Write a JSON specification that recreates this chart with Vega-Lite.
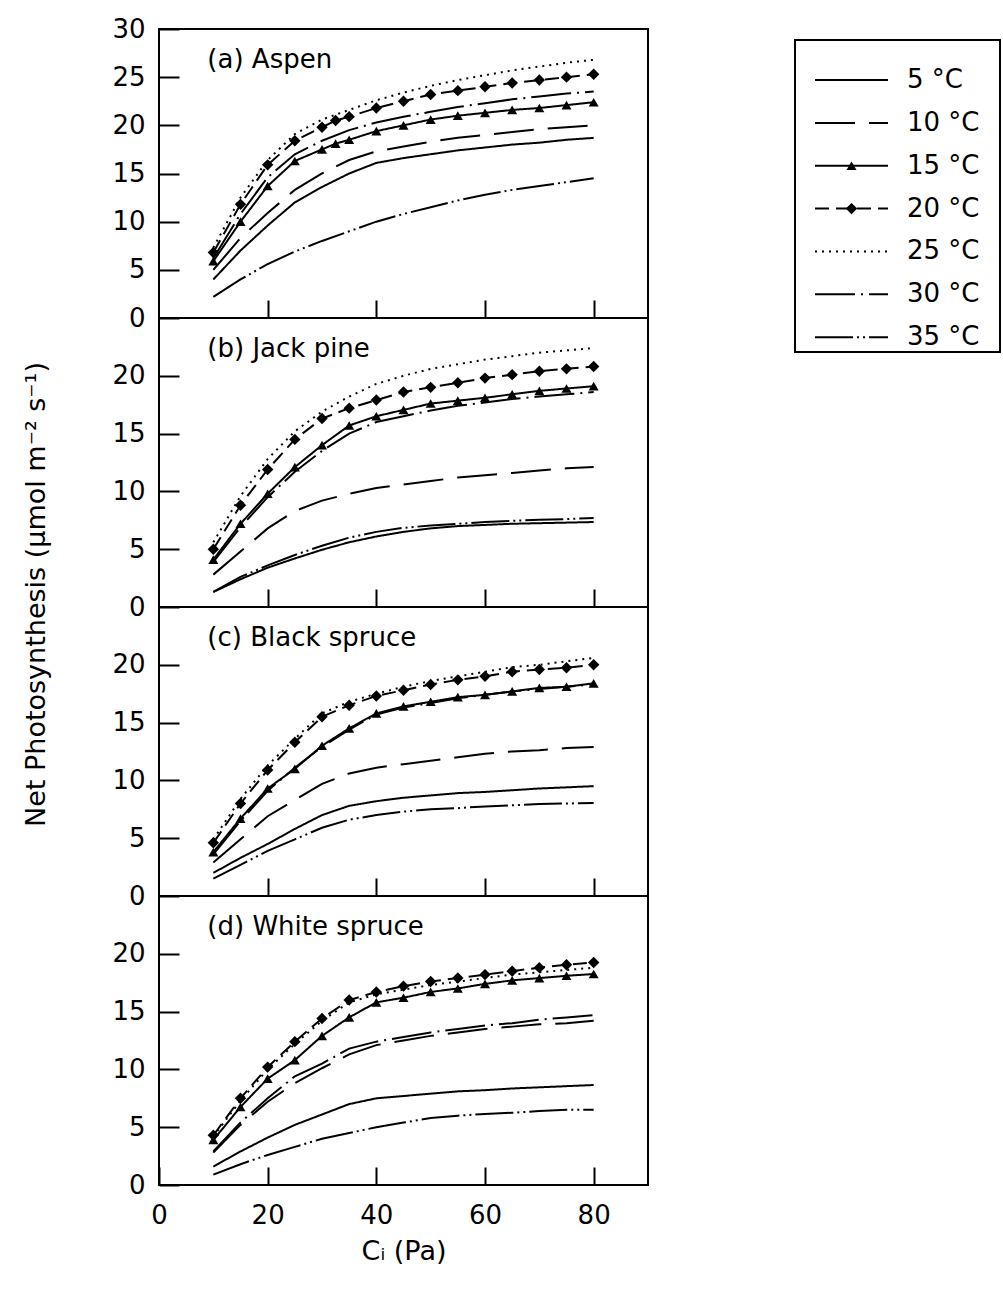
{
"$schema": "https://vega.github.io/schema/vega-lite/v6.json",
"background": "white",
"padding": {"left": 20, "top": 15, "right": 0, "bottom": 5},
"datasets": {
"ps": [
{"sp":"a","t":5,"ci":10,"pn":4.0},{"sp":"a","t":5,"ci":15,"pn":7.0},{"sp":"a","t":5,"ci":20,"pn":9.6},{"sp":"a","t":5,"ci":25,"pn":12.0},{"sp":"a","t":5,"ci":30,"pn":13.6},{"sp":"a","t":5,"ci":35,"pn":15.0},{"sp":"a","t":5,"ci":40,"pn":16.1},{"sp":"a","t":5,"ci":45,"pn":16.6},{"sp":"a","t":5,"ci":50,"pn":17.0},{"sp":"a","t":5,"ci":55,"pn":17.4},{"sp":"a","t":5,"ci":60,"pn":17.7},{"sp":"a","t":5,"ci":65,"pn":18.0},{"sp":"a","t":5,"ci":70,"pn":18.2},{"sp":"a","t":5,"ci":75,"pn":18.5},{"sp":"a","t":5,"ci":80,"pn":18.7},
{"sp":"a","t":10,"ci":10,"pn":5.0},{"sp":"a","t":10,"ci":15,"pn":8.3},{"sp":"a","t":10,"ci":20,"pn":10.9},{"sp":"a","t":10,"ci":25,"pn":13.3},{"sp":"a","t":10,"ci":30,"pn":15.0},{"sp":"a","t":10,"ci":35,"pn":16.4},{"sp":"a","t":10,"ci":40,"pn":17.3},{"sp":"a","t":10,"ci":45,"pn":17.8},{"sp":"a","t":10,"ci":50,"pn":18.3},{"sp":"a","t":10,"ci":55,"pn":18.7},{"sp":"a","t":10,"ci":60,"pn":19.0},{"sp":"a","t":10,"ci":65,"pn":19.3},{"sp":"a","t":10,"ci":70,"pn":19.6},{"sp":"a","t":10,"ci":75,"pn":19.8},{"sp":"a","t":10,"ci":80,"pn":20.0},
{"sp":"a","t":15,"ci":10,"pn":5.9},{"sp":"a","t":15,"ci":15,"pn":10.0},{"sp":"a","t":15,"ci":20,"pn":13.7},{"sp":"a","t":15,"ci":25,"pn":16.3},{"sp":"a","t":15,"ci":30,"pn":17.5},{"sp":"a","t":15,"ci":32.5,"pn":18.1},{"sp":"a","t":15,"ci":35,"pn":18.5},{"sp":"a","t":15,"ci":40,"pn":19.4},{"sp":"a","t":15,"ci":45,"pn":20.0},{"sp":"a","t":15,"ci":50,"pn":20.6},{"sp":"a","t":15,"ci":55,"pn":21.0},{"sp":"a","t":15,"ci":60,"pn":21.3},{"sp":"a","t":15,"ci":65,"pn":21.6},{"sp":"a","t":15,"ci":70,"pn":21.8},{"sp":"a","t":15,"ci":75,"pn":22.1},{"sp":"a","t":15,"ci":80,"pn":22.4},
{"sp":"a","t":20,"ci":10,"pn":6.8},{"sp":"a","t":20,"ci":15,"pn":11.8},{"sp":"a","t":20,"ci":20,"pn":15.9},{"sp":"a","t":20,"ci":25,"pn":18.4},{"sp":"a","t":20,"ci":30,"pn":19.8},{"sp":"a","t":20,"ci":32.5,"pn":20.5},{"sp":"a","t":20,"ci":35,"pn":20.9},{"sp":"a","t":20,"ci":40,"pn":21.8},{"sp":"a","t":20,"ci":45,"pn":22.5},{"sp":"a","t":20,"ci":50,"pn":23.2},{"sp":"a","t":20,"ci":55,"pn":23.6},{"sp":"a","t":20,"ci":60,"pn":24.0},{"sp":"a","t":20,"ci":65,"pn":24.4},{"sp":"a","t":20,"ci":70,"pn":24.7},{"sp":"a","t":20,"ci":75,"pn":25.0},{"sp":"a","t":20,"ci":80,"pn":25.3},
{"sp":"a","t":25,"ci":10,"pn":7.3},{"sp":"a","t":25,"ci":15,"pn":12.5},{"sp":"a","t":25,"ci":20,"pn":16.4},{"sp":"a","t":25,"ci":25,"pn":19.1},{"sp":"a","t":25,"ci":30,"pn":20.6},{"sp":"a","t":25,"ci":35,"pn":21.6},{"sp":"a","t":25,"ci":40,"pn":22.6},{"sp":"a","t":25,"ci":45,"pn":23.4},{"sp":"a","t":25,"ci":50,"pn":24.1},{"sp":"a","t":25,"ci":55,"pn":24.7},{"sp":"a","t":25,"ci":60,"pn":25.2},{"sp":"a","t":25,"ci":65,"pn":25.7},{"sp":"a","t":25,"ci":70,"pn":26.1},{"sp":"a","t":25,"ci":75,"pn":26.5},{"sp":"a","t":25,"ci":80,"pn":26.8},
{"sp":"a","t":30,"ci":10,"pn":6.2},{"sp":"a","t":30,"ci":15,"pn":10.8},{"sp":"a","t":30,"ci":20,"pn":14.6},{"sp":"a","t":30,"ci":25,"pn":17.0},{"sp":"a","t":30,"ci":30,"pn":18.4},{"sp":"a","t":30,"ci":35,"pn":19.5},{"sp":"a","t":30,"ci":40,"pn":20.3},{"sp":"a","t":30,"ci":45,"pn":20.9},{"sp":"a","t":30,"ci":50,"pn":21.4},{"sp":"a","t":30,"ci":55,"pn":21.9},{"sp":"a","t":30,"ci":60,"pn":22.3},{"sp":"a","t":30,"ci":65,"pn":22.7},{"sp":"a","t":30,"ci":70,"pn":23.0},{"sp":"a","t":30,"ci":75,"pn":23.3},{"sp":"a","t":30,"ci":80,"pn":23.5},
{"sp":"a","t":35,"ci":10,"pn":2.2},{"sp":"a","t":35,"ci":15,"pn":4.0},{"sp":"a","t":35,"ci":20,"pn":5.6},{"sp":"a","t":35,"ci":25,"pn":6.9},{"sp":"a","t":35,"ci":30,"pn":8.0},{"sp":"a","t":35,"ci":35,"pn":9.0},{"sp":"a","t":35,"ci":40,"pn":10.0},{"sp":"a","t":35,"ci":45,"pn":10.8},{"sp":"a","t":35,"ci":50,"pn":11.5},{"sp":"a","t":35,"ci":55,"pn":12.2},{"sp":"a","t":35,"ci":60,"pn":12.8},{"sp":"a","t":35,"ci":65,"pn":13.3},{"sp":"a","t":35,"ci":70,"pn":13.7},{"sp":"a","t":35,"ci":75,"pn":14.1},{"sp":"a","t":35,"ci":80,"pn":14.5},
{"sp":"b","t":5,"ci":10,"pn":1.3},{"sp":"b","t":5,"ci":15,"pn":2.4},{"sp":"b","t":5,"ci":20,"pn":3.4},{"sp":"b","t":5,"ci":25,"pn":4.2},{"sp":"b","t":5,"ci":30,"pn":4.95},{"sp":"b","t":5,"ci":35,"pn":5.6},{"sp":"b","t":5,"ci":40,"pn":6.1},{"sp":"b","t":5,"ci":45,"pn":6.5},{"sp":"b","t":5,"ci":50,"pn":6.8},{"sp":"b","t":5,"ci":55,"pn":7.0},{"sp":"b","t":5,"ci":60,"pn":7.1},{"sp":"b","t":5,"ci":65,"pn":7.2},{"sp":"b","t":5,"ci":70,"pn":7.25},{"sp":"b","t":5,"ci":75,"pn":7.3},{"sp":"b","t":5,"ci":80,"pn":7.35},
{"sp":"b","t":10,"ci":10,"pn":2.8},{"sp":"b","t":10,"ci":15,"pn":4.8},{"sp":"b","t":10,"ci":20,"pn":6.8},{"sp":"b","t":10,"ci":25,"pn":8.3},{"sp":"b","t":10,"ci":30,"pn":9.2},{"sp":"b","t":10,"ci":35,"pn":9.8},{"sp":"b","t":10,"ci":40,"pn":10.3},{"sp":"b","t":10,"ci":45,"pn":10.6},{"sp":"b","t":10,"ci":50,"pn":10.9},{"sp":"b","t":10,"ci":55,"pn":11.2},{"sp":"b","t":10,"ci":60,"pn":11.4},{"sp":"b","t":10,"ci":65,"pn":11.6},{"sp":"b","t":10,"ci":70,"pn":11.8},{"sp":"b","t":10,"ci":75,"pn":12.0},{"sp":"b","t":10,"ci":80,"pn":12.1},
{"sp":"b","t":15,"ci":10,"pn":4.1},{"sp":"b","t":15,"ci":15,"pn":7.2},{"sp":"b","t":15,"ci":20,"pn":9.8},{"sp":"b","t":15,"ci":25,"pn":12.1},{"sp":"b","t":15,"ci":30,"pn":14.0},{"sp":"b","t":15,"ci":35,"pn":15.7},{"sp":"b","t":15,"ci":40,"pn":16.5},{"sp":"b","t":15,"ci":45,"pn":17.05},{"sp":"b","t":15,"ci":50,"pn":17.6},{"sp":"b","t":15,"ci":55,"pn":17.85},{"sp":"b","t":15,"ci":60,"pn":18.1},{"sp":"b","t":15,"ci":65,"pn":18.4},{"sp":"b","t":15,"ci":70,"pn":18.7},{"sp":"b","t":15,"ci":75,"pn":18.9},{"sp":"b","t":15,"ci":80,"pn":19.1},
{"sp":"b","t":20,"ci":10,"pn":5.0},{"sp":"b","t":20,"ci":15,"pn":8.8},{"sp":"b","t":20,"ci":20,"pn":11.9},{"sp":"b","t":20,"ci":25,"pn":14.5},{"sp":"b","t":20,"ci":30,"pn":16.3},{"sp":"b","t":20,"ci":35,"pn":17.2},{"sp":"b","t":20,"ci":40,"pn":17.9},{"sp":"b","t":20,"ci":45,"pn":18.6},{"sp":"b","t":20,"ci":50,"pn":19.0},{"sp":"b","t":20,"ci":55,"pn":19.4},{"sp":"b","t":20,"ci":60,"pn":19.8},{"sp":"b","t":20,"ci":65,"pn":20.1},{"sp":"b","t":20,"ci":70,"pn":20.4},{"sp":"b","t":20,"ci":75,"pn":20.6},{"sp":"b","t":20,"ci":80,"pn":20.8},
{"sp":"b","t":25,"ci":10,"pn":5.6},{"sp":"b","t":25,"ci":15,"pn":9.6},{"sp":"b","t":25,"ci":20,"pn":12.8},{"sp":"b","t":25,"ci":25,"pn":15.2},{"sp":"b","t":25,"ci":30,"pn":16.9},{"sp":"b","t":25,"ci":35,"pn":18.2},{"sp":"b","t":25,"ci":40,"pn":19.3},{"sp":"b","t":25,"ci":45,"pn":20.0},{"sp":"b","t":25,"ci":50,"pn":20.6},{"sp":"b","t":25,"ci":55,"pn":21.0},{"sp":"b","t":25,"ci":60,"pn":21.4},{"sp":"b","t":25,"ci":65,"pn":21.7},{"sp":"b","t":25,"ci":70,"pn":22.0},{"sp":"b","t":25,"ci":75,"pn":22.2},{"sp":"b","t":25,"ci":80,"pn":22.4},
{"sp":"b","t":30,"ci":10,"pn":3.9},{"sp":"b","t":30,"ci":15,"pn":6.9},{"sp":"b","t":30,"ci":20,"pn":9.5},{"sp":"b","t":30,"ci":25,"pn":11.7},{"sp":"b","t":30,"ci":30,"pn":13.5},{"sp":"b","t":30,"ci":35,"pn":15.0},{"sp":"b","t":30,"ci":40,"pn":16.0},{"sp":"b","t":30,"ci":45,"pn":16.5},{"sp":"b","t":30,"ci":50,"pn":17.0},{"sp":"b","t":30,"ci":55,"pn":17.4},{"sp":"b","t":30,"ci":60,"pn":17.7},{"sp":"b","t":30,"ci":65,"pn":18.0},{"sp":"b","t":30,"ci":70,"pn":18.2},{"sp":"b","t":30,"ci":75,"pn":18.4},{"sp":"b","t":30,"ci":80,"pn":18.6},
{"sp":"b","t":35,"ci":10,"pn":1.3},{"sp":"b","t":35,"ci":15,"pn":2.6},{"sp":"b","t":35,"ci":20,"pn":3.6},{"sp":"b","t":35,"ci":25,"pn":4.5},{"sp":"b","t":35,"ci":30,"pn":5.3},{"sp":"b","t":35,"ci":35,"pn":6.0},{"sp":"b","t":35,"ci":40,"pn":6.5},{"sp":"b","t":35,"ci":45,"pn":6.85},{"sp":"b","t":35,"ci":50,"pn":7.05},{"sp":"b","t":35,"ci":55,"pn":7.2},{"sp":"b","t":35,"ci":60,"pn":7.35},{"sp":"b","t":35,"ci":65,"pn":7.45},{"sp":"b","t":35,"ci":70,"pn":7.55},{"sp":"b","t":35,"ci":75,"pn":7.6},{"sp":"b","t":35,"ci":80,"pn":7.7},
{"sp":"c","t":5,"ci":10,"pn":2.0},{"sp":"c","t":5,"ci":15,"pn":3.3},{"sp":"c","t":5,"ci":20,"pn":4.5},{"sp":"c","t":5,"ci":25,"pn":5.8},{"sp":"c","t":5,"ci":30,"pn":7.0},{"sp":"c","t":5,"ci":35,"pn":7.8},{"sp":"c","t":5,"ci":40,"pn":8.2},{"sp":"c","t":5,"ci":45,"pn":8.5},{"sp":"c","t":5,"ci":50,"pn":8.7},{"sp":"c","t":5,"ci":55,"pn":8.9},{"sp":"c","t":5,"ci":60,"pn":9.0},{"sp":"c","t":5,"ci":65,"pn":9.15},{"sp":"c","t":5,"ci":70,"pn":9.3},{"sp":"c","t":5,"ci":75,"pn":9.4},{"sp":"c","t":5,"ci":80,"pn":9.5},
{"sp":"c","t":10,"ci":10,"pn":2.9},{"sp":"c","t":10,"ci":15,"pn":4.9},{"sp":"c","t":10,"ci":20,"pn":6.9},{"sp":"c","t":10,"ci":25,"pn":8.3},{"sp":"c","t":10,"ci":30,"pn":9.7},{"sp":"c","t":10,"ci":35,"pn":10.6},{"sp":"c","t":10,"ci":40,"pn":11.1},{"sp":"c","t":10,"ci":45,"pn":11.4},{"sp":"c","t":10,"ci":50,"pn":11.7},{"sp":"c","t":10,"ci":55,"pn":12.0},{"sp":"c","t":10,"ci":60,"pn":12.3},{"sp":"c","t":10,"ci":65,"pn":12.5},{"sp":"c","t":10,"ci":70,"pn":12.6},{"sp":"c","t":10,"ci":75,"pn":12.8},{"sp":"c","t":10,"ci":80,"pn":12.9},
{"sp":"c","t":15,"ci":10,"pn":3.8},{"sp":"c","t":15,"ci":15,"pn":6.7},{"sp":"c","t":15,"ci":20,"pn":9.3},{"sp":"c","t":15,"ci":25,"pn":11.0},{"sp":"c","t":15,"ci":30,"pn":13.0},{"sp":"c","t":15,"ci":35,"pn":14.5},{"sp":"c","t":15,"ci":40,"pn":15.8},{"sp":"c","t":15,"ci":45,"pn":16.4},{"sp":"c","t":15,"ci":50,"pn":16.8},{"sp":"c","t":15,"ci":55,"pn":17.2},{"sp":"c","t":15,"ci":60,"pn":17.4},{"sp":"c","t":15,"ci":65,"pn":17.7},{"sp":"c","t":15,"ci":70,"pn":18.0},{"sp":"c","t":15,"ci":75,"pn":18.1},{"sp":"c","t":15,"ci":80,"pn":18.4},
{"sp":"c","t":20,"ci":10,"pn":4.6},{"sp":"c","t":20,"ci":15,"pn":8.0},{"sp":"c","t":20,"ci":20,"pn":10.9},{"sp":"c","t":20,"ci":25,"pn":13.3},{"sp":"c","t":20,"ci":30,"pn":15.5},{"sp":"c","t":20,"ci":35,"pn":16.5},{"sp":"c","t":20,"ci":40,"pn":17.3},{"sp":"c","t":20,"ci":45,"pn":17.8},{"sp":"c","t":20,"ci":50,"pn":18.3},{"sp":"c","t":20,"ci":55,"pn":18.7},{"sp":"c","t":20,"ci":60,"pn":19.0},{"sp":"c","t":20,"ci":65,"pn":19.4},{"sp":"c","t":20,"ci":70,"pn":19.6},{"sp":"c","t":20,"ci":75,"pn":19.75},{"sp":"c","t":20,"ci":80,"pn":20.0},
{"sp":"c","t":25,"ci":10,"pn":4.9},{"sp":"c","t":25,"ci":15,"pn":8.4},{"sp":"c","t":25,"ci":20,"pn":11.3},{"sp":"c","t":25,"ci":25,"pn":13.6},{"sp":"c","t":25,"ci":30,"pn":15.8},{"sp":"c","t":25,"ci":35,"pn":16.8},{"sp":"c","t":25,"ci":40,"pn":17.5},{"sp":"c","t":25,"ci":45,"pn":18.1},{"sp":"c","t":25,"ci":50,"pn":18.6},{"sp":"c","t":25,"ci":55,"pn":19.0},{"sp":"c","t":25,"ci":60,"pn":19.4},{"sp":"c","t":25,"ci":65,"pn":19.8},{"sp":"c","t":25,"ci":70,"pn":20.0},{"sp":"c","t":25,"ci":75,"pn":20.3},{"sp":"c","t":25,"ci":80,"pn":20.6},
{"sp":"c","t":30,"ci":10,"pn":3.6},{"sp":"c","t":30,"ci":15,"pn":6.5},{"sp":"c","t":30,"ci":20,"pn":9.1},{"sp":"c","t":30,"ci":25,"pn":11.1},{"sp":"c","t":30,"ci":30,"pn":12.9},{"sp":"c","t":30,"ci":35,"pn":14.4},{"sp":"c","t":30,"ci":40,"pn":15.7},{"sp":"c","t":30,"ci":45,"pn":16.3},{"sp":"c","t":30,"ci":50,"pn":16.7},{"sp":"c","t":30,"ci":55,"pn":17.1},{"sp":"c","t":30,"ci":60,"pn":17.4},{"sp":"c","t":30,"ci":65,"pn":17.7},{"sp":"c","t":30,"ci":70,"pn":17.9},{"sp":"c","t":30,"ci":75,"pn":18.1},{"sp":"c","t":30,"ci":80,"pn":18.3},
{"sp":"c","t":35,"ci":10,"pn":1.5},{"sp":"c","t":35,"ci":15,"pn":2.7},{"sp":"c","t":35,"ci":20,"pn":3.9},{"sp":"c","t":35,"ci":25,"pn":4.9},{"sp":"c","t":35,"ci":30,"pn":5.9},{"sp":"c","t":35,"ci":35,"pn":6.6},{"sp":"c","t":35,"ci":40,"pn":7.0},{"sp":"c","t":35,"ci":45,"pn":7.3},{"sp":"c","t":35,"ci":50,"pn":7.5},{"sp":"c","t":35,"ci":55,"pn":7.6},{"sp":"c","t":35,"ci":60,"pn":7.75},{"sp":"c","t":35,"ci":65,"pn":7.85},{"sp":"c","t":35,"ci":70,"pn":7.95},{"sp":"c","t":35,"ci":75,"pn":8.0},{"sp":"c","t":35,"ci":80,"pn":8.05},
{"sp":"d","t":5,"ci":10,"pn":1.6},{"sp":"d","t":5,"ci":15,"pn":2.9},{"sp":"d","t":5,"ci":20,"pn":4.1},{"sp":"d","t":5,"ci":25,"pn":5.2},{"sp":"d","t":5,"ci":30,"pn":6.1},{"sp":"d","t":5,"ci":35,"pn":7.0},{"sp":"d","t":5,"ci":40,"pn":7.5},{"sp":"d","t":5,"ci":45,"pn":7.7},{"sp":"d","t":5,"ci":50,"pn":7.9},{"sp":"d","t":5,"ci":55,"pn":8.1},{"sp":"d","t":5,"ci":60,"pn":8.2},{"sp":"d","t":5,"ci":65,"pn":8.35},{"sp":"d","t":5,"ci":70,"pn":8.45},{"sp":"d","t":5,"ci":75,"pn":8.55},{"sp":"d","t":5,"ci":80,"pn":8.65},
{"sp":"d","t":10,"ci":10,"pn":2.8},{"sp":"d","t":10,"ci":15,"pn":5.2},{"sp":"d","t":10,"ci":20,"pn":7.2},{"sp":"d","t":10,"ci":25,"pn":8.8},{"sp":"d","t":10,"ci":30,"pn":10.1},{"sp":"d","t":10,"ci":35,"pn":11.3},{"sp":"d","t":10,"ci":40,"pn":12.1},{"sp":"d","t":10,"ci":45,"pn":12.5},{"sp":"d","t":10,"ci":50,"pn":12.9},{"sp":"d","t":10,"ci":55,"pn":13.2},{"sp":"d","t":10,"ci":60,"pn":13.5},{"sp":"d","t":10,"ci":65,"pn":13.7},{"sp":"d","t":10,"ci":70,"pn":13.9},{"sp":"d","t":10,"ci":75,"pn":14.0},{"sp":"d","t":10,"ci":80,"pn":14.2},
{"sp":"d","t":15,"ci":10,"pn":3.9},{"sp":"d","t":15,"ci":15,"pn":6.75},{"sp":"d","t":15,"ci":20,"pn":9.2},{"sp":"d","t":15,"ci":25,"pn":10.8},{"sp":"d","t":15,"ci":30,"pn":12.9},{"sp":"d","t":15,"ci":35,"pn":14.5},{"sp":"d","t":15,"ci":40,"pn":15.8},{"sp":"d","t":15,"ci":45,"pn":16.2},{"sp":"d","t":15,"ci":50,"pn":16.7},{"sp":"d","t":15,"ci":55,"pn":17.0},{"sp":"d","t":15,"ci":60,"pn":17.4},{"sp":"d","t":15,"ci":65,"pn":17.7},{"sp":"d","t":15,"ci":70,"pn":17.9},{"sp":"d","t":15,"ci":75,"pn":18.1},{"sp":"d","t":15,"ci":80,"pn":18.25},
{"sp":"d","t":20,"ci":10,"pn":4.3},{"sp":"d","t":20,"ci":15,"pn":7.5},{"sp":"d","t":20,"ci":20,"pn":10.2},{"sp":"d","t":20,"ci":25,"pn":12.4},{"sp":"d","t":20,"ci":30,"pn":14.4},{"sp":"d","t":20,"ci":35,"pn":16.0},{"sp":"d","t":20,"ci":40,"pn":16.7},{"sp":"d","t":20,"ci":45,"pn":17.2},{"sp":"d","t":20,"ci":50,"pn":17.6},{"sp":"d","t":20,"ci":55,"pn":17.9},{"sp":"d","t":20,"ci":60,"pn":18.2},{"sp":"d","t":20,"ci":65,"pn":18.5},{"sp":"d","t":20,"ci":70,"pn":18.8},{"sp":"d","t":20,"ci":75,"pn":19.05},{"sp":"d","t":20,"ci":80,"pn":19.25},
{"sp":"d","t":25,"ci":10,"pn":4.2},{"sp":"d","t":25,"ci":15,"pn":7.3},{"sp":"d","t":25,"ci":20,"pn":10.0},{"sp":"d","t":25,"ci":25,"pn":12.2},{"sp":"d","t":25,"ci":30,"pn":14.2},{"sp":"d","t":25,"ci":35,"pn":15.8},{"sp":"d","t":25,"ci":40,"pn":16.5},{"sp":"d","t":25,"ci":45,"pn":16.9},{"sp":"d","t":25,"ci":50,"pn":17.3},{"sp":"d","t":25,"ci":55,"pn":17.6},{"sp":"d","t":25,"ci":60,"pn":17.9},{"sp":"d","t":25,"ci":65,"pn":18.2},{"sp":"d","t":25,"ci":70,"pn":18.4},{"sp":"d","t":25,"ci":75,"pn":18.6},{"sp":"d","t":25,"ci":80,"pn":18.8},
{"sp":"d","t":30,"ci":10,"pn":2.9},{"sp":"d","t":30,"ci":15,"pn":5.4},{"sp":"d","t":30,"ci":20,"pn":7.5},{"sp":"d","t":30,"ci":25,"pn":9.4},{"sp":"d","t":30,"ci":30,"pn":10.5},{"sp":"d","t":30,"ci":35,"pn":11.8},{"sp":"d","t":30,"ci":40,"pn":12.4},{"sp":"d","t":30,"ci":45,"pn":12.8},{"sp":"d","t":30,"ci":50,"pn":13.2},{"sp":"d","t":30,"ci":55,"pn":13.5},{"sp":"d","t":30,"ci":60,"pn":13.8},{"sp":"d","t":30,"ci":65,"pn":14.0},{"sp":"d","t":30,"ci":70,"pn":14.3},{"sp":"d","t":30,"ci":75,"pn":14.5},{"sp":"d","t":30,"ci":80,"pn":14.7},
{"sp":"d","t":35,"ci":10,"pn":0.9},{"sp":"d","t":35,"ci":15,"pn":1.8},{"sp":"d","t":35,"ci":20,"pn":2.6},{"sp":"d","t":35,"ci":25,"pn":3.3},{"sp":"d","t":35,"ci":30,"pn":4.0},{"sp":"d","t":35,"ci":35,"pn":4.5},{"sp":"d","t":35,"ci":40,"pn":5.0},{"sp":"d","t":35,"ci":45,"pn":5.4},{"sp":"d","t":35,"ci":50,"pn":5.8},{"sp":"d","t":35,"ci":55,"pn":6.0},{"sp":"d","t":35,"ci":60,"pn":6.15},{"sp":"d","t":35,"ci":65,"pn":6.25},{"sp":"d","t":35,"ci":70,"pn":6.4},{"sp":"d","t":35,"ci":75,"pn":6.5},{"sp":"d","t":35,"ci":80,"pn":6.5}
],
"leg": [
{"t":5,"label":"5 °C"},{"t":10,"label":"10 °C"},{"t":15,"label":"15 °C"},{"t":20,"label":"20 °C"},{"t":25,"label":"25 °C"},{"t":30,"label":"30 °C"},{"t":35,"label":"35 °C"}
]
},
"hconcat": [
{
"vconcat": [
{
"width": 489, "height": 289,
"data": {"name": "ps"},
"layer": [
{"transform": [{"filter": "datum.sp === 'a'"}],
 "mark": {"type": "line", "color": "black", "strokeWidth": 2},
 "encoding": {
  "x": {"field": "ci", "type": "quantitative", "scale": {"domain": [0, 90], "nice": false, "zero": false}, "axis": {"values": [20, 40, 60, 80], "labels": false, "title": null}},
  "y": {"field": "pn", "type": "quantitative", "scale": {"domain": [0, 30], "nice": false}, "axis": {"values": [0, 5, 10, 15, 20, 25, 30], "title": null}},
  "strokeDash": {"field": "t", "type": "nominal", "scale": {"domain": [5, 10, 15, 20, 25, 30, 35], "range": [[1, 0], [40, 14], [1, 0], [14, 7], [2, 5], [40, 6, 2, 6], [38, 4, 2, 4, 2, 4]]}, "legend": null}
 }},
{"transform": [{"filter": "datum.sp === 'a' && (datum.t === 15 || datum.t === 20)"}],
 "mark": {"type": "point", "filled": true, "color": "black", "opacity": 1},
 "encoding": {
  "x": {"field": "ci", "type": "quantitative"},
  "y": {"field": "pn", "type": "quantitative"},
  "shape": {"field": "t", "type": "nominal", "scale": {"domain": [15, 20], "range": ["triangle-up", "diamond"]}, "legend": null},
  "size": {"field": "t", "type": "ordinal", "scale": {"domain": [15, 20], "range": [100, 130]}, "legend": null}
 }},
{"data": {"values": [{"label": "(a) Aspen"}]},
 "mark": {"type": "text", "align": "left", "baseline": "alphabetic", "fontSize": 26, "font": "DejaVu Sans", "color": "black"},
 "encoding": {"x": {"datum": 8.9}, "y": {"datum": 26.0}, "text": {"field": "label"}}}
]
},
{
"width": 489, "height": 289,
"data": {"name": "ps"},
"layer": [
{"transform": [{"filter": "datum.sp === 'b'"}],
 "mark": {"type": "line", "color": "black", "strokeWidth": 2},
 "encoding": {
  "x": {"field": "ci", "type": "quantitative", "scale": {"domain": [0, 90], "nice": false, "zero": false}, "axis": {"values": [20, 40, 60, 80], "labels": false, "title": null}},
  "y": {"field": "pn", "type": "quantitative", "scale": {"domain": [0, 25], "nice": false}, "axis": {"values": [0, 5, 10, 15, 20], "title": "Net Photosynthesis (μmol m⁻² s⁻¹)", "titleX": -115, "titleY": 276, "titleAngle": 270, "titleAlign": "center", "titleBaseline": "alphabetic"}},
  "strokeDash": {"field": "t", "type": "nominal", "scale": {"domain": [5, 10, 15, 20, 25, 30, 35], "range": [[1, 0], [40, 14], [1, 0], [14, 7], [2, 5], [40, 6, 2, 6], [38, 4, 2, 4, 2, 4]]}, "legend": null}
 }},
{"transform": [{"filter": "datum.sp === 'b' && (datum.t === 15 || datum.t === 20)"}],
 "mark": {"type": "point", "filled": true, "color": "black", "opacity": 1},
 "encoding": {
  "x": {"field": "ci", "type": "quantitative"},
  "y": {"field": "pn", "type": "quantitative"},
  "shape": {"field": "t", "type": "nominal", "scale": {"domain": [15, 20], "range": ["triangle-up", "diamond"]}, "legend": null},
  "size": {"field": "t", "type": "ordinal", "scale": {"domain": [15, 20], "range": [100, 130]}, "legend": null}
 }},
{"data": {"values": [{"label": "(b) Jack pine"}]},
 "mark": {"type": "text", "align": "left", "baseline": "alphabetic", "fontSize": 26, "font": "DejaVu Sans", "color": "black"},
 "encoding": {"x": {"datum": 8.9}, "y": {"datum": 21.65}, "text": {"field": "label"}}}
]
},
{
"width": 489, "height": 289,
"data": {"name": "ps"},
"layer": [
{"transform": [{"filter": "datum.sp === 'c'"}],
 "mark": {"type": "line", "color": "black", "strokeWidth": 2},
 "encoding": {
  "x": {"field": "ci", "type": "quantitative", "scale": {"domain": [0, 90], "nice": false, "zero": false}, "axis": {"values": [20, 40, 60, 80], "labels": false, "title": null}},
  "y": {"field": "pn", "type": "quantitative", "scale": {"domain": [0, 25], "nice": false}, "axis": {"values": [0, 5, 10, 15, 20], "title": null}},
  "strokeDash": {"field": "t", "type": "nominal", "scale": {"domain": [5, 10, 15, 20, 25, 30, 35], "range": [[1, 0], [40, 14], [1, 0], [14, 7], [2, 5], [40, 6, 2, 6], [38, 4, 2, 4, 2, 4]]}, "legend": null}
 }},
{"transform": [{"filter": "datum.sp === 'c' && (datum.t === 15 || datum.t === 20)"}],
 "mark": {"type": "point", "filled": true, "color": "black", "opacity": 1},
 "encoding": {
  "x": {"field": "ci", "type": "quantitative"},
  "y": {"field": "pn", "type": "quantitative"},
  "shape": {"field": "t", "type": "nominal", "scale": {"domain": [15, 20], "range": ["triangle-up", "diamond"]}, "legend": null},
  "size": {"field": "t", "type": "ordinal", "scale": {"domain": [15, 20], "range": [100, 130]}, "legend": null}
 }},
{"data": {"values": [{"label": "(c) Black spruce"}]},
 "mark": {"type": "text", "align": "left", "baseline": "alphabetic", "fontSize": 26, "font": "DejaVu Sans", "color": "black"},
 "encoding": {"x": {"datum": 8.9}, "y": {"datum": 21.65}, "text": {"field": "label"}}}
]
},
{
"width": 489, "height": 289,
"data": {"name": "ps"},
"layer": [
{"transform": [{"filter": "datum.sp === 'd'"}],
 "mark": {"type": "line", "color": "black", "strokeWidth": 2},
 "encoding": {
  "x": {"field": "ci", "type": "quantitative", "scale": {"domain": [0, 90], "nice": false, "zero": false}, "axis": {"values": [0, 20, 40, 60, 80], "labelPadding": 35, "title": "Cᵢ (Pa)", "titleY": 74, "titleBaseline": "alphabetic", "titleAlign": "center"}},
  "y": {"field": "pn", "type": "quantitative", "scale": {"domain": [0, 25], "nice": false}, "axis": {"values": [0, 5, 10, 15, 20], "title": null}},
  "strokeDash": {"field": "t", "type": "nominal", "scale": {"domain": [5, 10, 15, 20, 25, 30, 35], "range": [[1, 0], [40, 14], [1, 0], [14, 7], [2, 5], [40, 6, 2, 6], [38, 4, 2, 4, 2, 4]]}, "legend": null}
 }},
{"transform": [{"filter": "datum.sp === 'd' && (datum.t === 15 || datum.t === 20)"}],
 "mark": {"type": "point", "filled": true, "color": "black", "opacity": 1},
 "encoding": {
  "x": {"field": "ci", "type": "quantitative"},
  "y": {"field": "pn", "type": "quantitative"},
  "shape": {"field": "t", "type": "nominal", "scale": {"domain": [15, 20], "range": ["triangle-up", "diamond"]}, "legend": null},
  "size": {"field": "t", "type": "ordinal", "scale": {"domain": [15, 20], "range": [100, 130]}, "legend": null}
 }},
{"data": {"values": [{"label": "(d) White spruce"}]},
 "mark": {"type": "text", "align": "left", "baseline": "alphabetic", "fontSize": 26, "font": "DejaVu Sans", "color": "black"},
 "encoding": {"x": {"datum": 8.9}, "y": {"datum": 21.65}, "text": {"field": "label"}}}
]
}
],
"spacing": 0,
"bounds": "flush"
},
{
"vconcat": [
{"width": 205, "height": 11, "view": {"stroke": null}, "data": {"values": [{}]}, "mark": {"type": "text"}, "encoding": {"text": {"value": ""}}},
{
"width": 205, "height": 312,
"data": {"name": "leg"},
"encoding": {"y": {"field": "t", "type": "ordinal", "scale": {"type": "point", "domain": [5, 10, 15, 20, 25, 30, 35], "padding": 0.64, "align": 0.73}, "axis": null}},
"layer": [
{"mark": {"type": "rule", "color": "black", "strokeWidth": 2},
 "encoding": {
  "x": {"datum": 20, "type": "quantitative", "scale": {"domain": [0, 205], "nice": false, "zero": false}, "axis": null},
  "x2": {"datum": 93},
  "strokeDash": {"field": "t", "type": "nominal", "scale": {"domain": [5, 10, 15, 20, 25, 30, 35], "range": [[1, 0], [40, 14], [1, 0], [14, 7], [2, 5], [40, 6, 2, 6], [38, 4, 2, 4, 2, 4]]}, "legend": null}
 }},
{"transform": [{"filter": "datum.t === 15 || datum.t === 20"}],
 "mark": {"type": "point", "filled": true, "color": "black", "opacity": 1},
 "encoding": {
  "x": {"datum": 56.5, "type": "quantitative"},
  "shape": {"field": "t", "type": "nominal", "scale": {"domain": [15, 20], "range": ["triangle-up", "diamond"]}, "legend": null},
  "size": {"field": "t", "type": "ordinal", "scale": {"domain": [15, 20], "range": [100, 130]}, "legend": null}
 }},
{"mark": {"type": "text", "align": "left", "baseline": "middle", "fontSize": 26, "font": "DejaVu Sans", "color": "black"},
 "encoding": {"x": {"datum": 112, "type": "quantitative"}, "text": {"field": "label"}}}
]
}
],
"spacing": 0,
"bounds": "flush"
}
],
"spacing": 145,
"config": {
 "font": "DejaVu Sans",
 "view": {"stroke": "black", "strokeWidth": 2},
 "axis": {"domain": false, "grid": false, "ticks": true, "tickColor": "black", "tickWidth": 2, "labelColor": "black", "labelFont": "DejaVu Sans", "labelFontSize": 26, "labelFlush": false, "labelOverlap": false, "titleColor": "black", "titleFont": "DejaVu Sans", "titleFontWeight": "normal", "titleFontSize": 27},
 "axisX": {"tickSize": -18, "labelPadding": 38},
 "axisY": {"tickSize": -20, "labelPadding": 34},
 "concat": {"spacing": 0}
}
}
